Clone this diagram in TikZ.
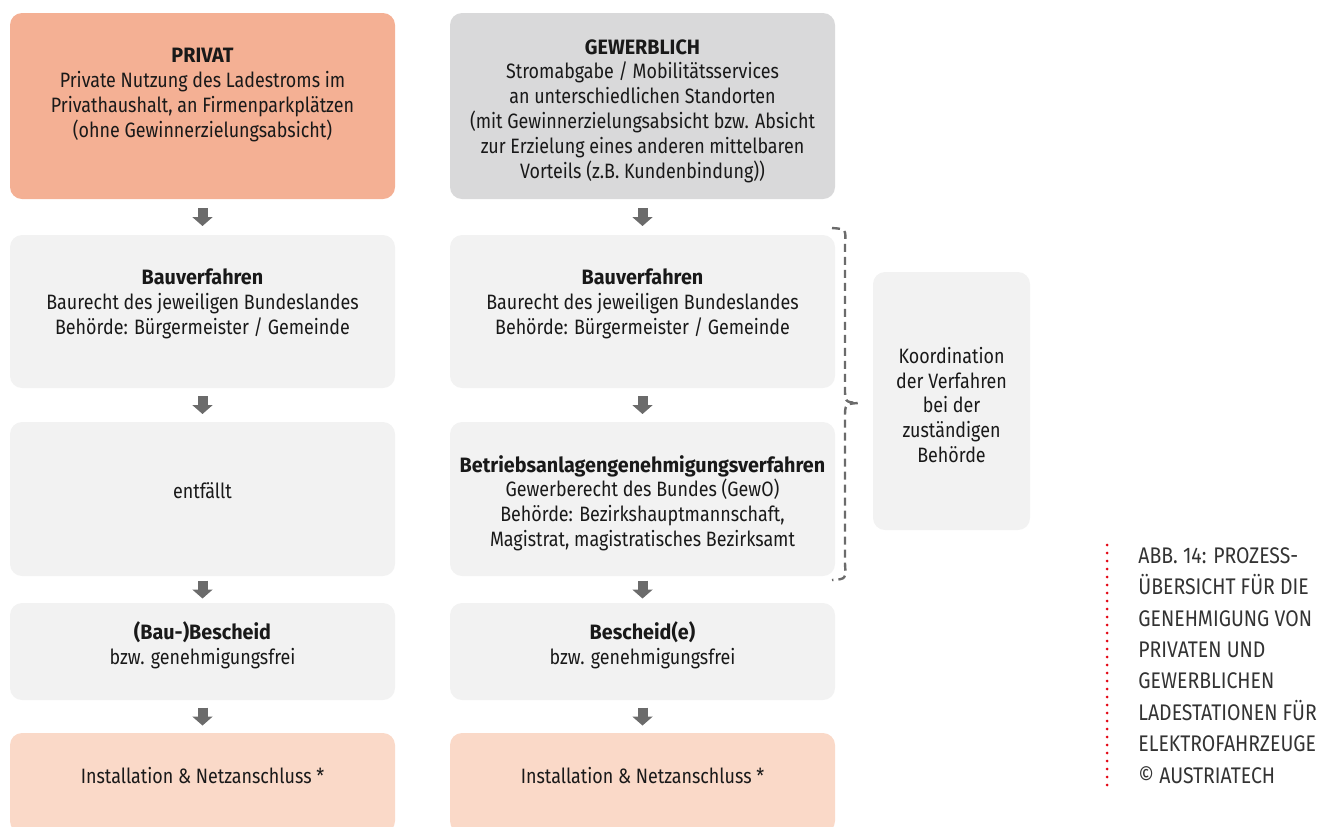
\documentclass[tikz,border=0pt]{standalone}
\usepackage{fontspec}
\setmainfont{Fira Sans}[FakeStretch=0.86, BoldFeatures={FakeStretch=0.95}]
\usetikzlibrary{arrows.meta, calc}
\definecolor{privat}{HTML}{F4B094}
\definecolor{gewerbe}{HTML}{D9D9DA}
\definecolor{stepgray}{HTML}{F2F2F2}
\definecolor{install}{HTML}{FAD9C8}
\definecolor{arrowgray}{HTML}{6B6B6B}
\definecolor{capred}{HTML}{E30613}
\newcommand{\bodyfont}{\fontsize{10.4}{12.4}\selectfont}

\begin{document}
\begin{tikzpicture}[x=0.5pt, y=-0.5pt,
            box/.style={rectangle, rounded corners=6pt, inner sep=0pt, minimum width=192.5pt},
            txt/.style={align=center, font=\bodyfont, text=black!90, inner sep=0pt},
            flow/.style={arrowgray, line width=5pt, -{Triangle[width=10pt, length=4.5pt]}},
            bracket/.style={arrowgray, line width=1.2pt, dash pattern=on 4pt off 2.5pt},
            capdots/.style={capred, line width=1.5pt, line cap=round, dash pattern=on 0pt off 4pt}]

        \useasboundingbox (0,0) rectangle (1320,826);

        % left column: privat
        \node[box, fill=privat,   minimum height=93pt]   (p1) at (202.5,106) {};
        \node[box, fill=stepgray, minimum height=76.5pt] (p2) at (202.5,311.5) {};
        \node[box, fill=stepgray, minimum height=77pt]   (p3) at (202.5,499) {};
        \node[box, fill=stepgray, minimum height=48.5pt] (p4) at (202.5,651.5) {};
        \node[box, fill=install,  minimum height=50pt]   (p5) at (202.5,783) {};

        % right column: gewerblich
        \node[box, fill=gewerbe,  minimum height=93pt]   (g1) at (642.5,106) {};
        \node[box, fill=stepgray, minimum height=76.5pt] (g2) at (642.5,311.5) {};
        \node[box, fill=stepgray, minimum height=77pt]   (g3) at (642.5,499) {};
        \node[box, fill=stepgray, minimum height=48.5pt] (g4) at (642.5,651.5) {};
        \node[box, fill=install,  minimum height=50pt]   (g5) at (642.5,783) {};

        \node[box, fill=stepgray, minimum width=78.5pt, minimum height=129pt] (koord) at (951.5,401) {};

        % texts
        \node[txt] (tp1) at (202.5,95) {\textbf{PRIVAT}\\Private Nutzung des Ladestroms im\\Privathaushalt, an Firmenparkplätzen\\(ohne Gewinnerzielungsabsicht)};
        \node[txt] (tp2) at (202.5,304) {\textbf{Bauverfahren}\\Baurecht des jeweiligen Bundeslandes\\Behörde: Bürgermeister / Gemeinde};
        \node[txt] (tp3) at (202.5,491) {entfällt};
        \node[txt] (tp4) at (202.5,645) {\textbf{(Bau-)Bescheid}\\bzw. genehmigungsfrei};
        \node[txt] (tp5) at (202.5,775) {Installation \& Netzanschluss *};

        \node[txt] (tg1) at (642.5,111) {\textbf{GEWERBLICH}\\Stromabgabe / Mobilitätsservices\\an unterschiedlichen Standorten\\(mit Gewinnerzielungsabsicht bzw. Absicht\\zur Erzielung eines anderen mittelbaren\\Vorteils (z.B. Kundenbindung))};
        \node[txt] (tg2) at (642.5,304) {\textbf{Bauverfahren}\\Baurecht des jeweiligen Bundeslandes\\Behörde: Bürgermeister / Gemeinde};
        \node[txt] (tg3) at (642.5,503) {\textbf{Betriebsanlagengenehmigungsverfahren}\\Gewerberecht des Bundes (GewO)\\Behörde: Bezirkshauptmannschaft,\\Magistrat, magistratisches Bezirksamt};
        \node[txt] (tg4) at (642.5,645) {\textbf{Bescheid(e)}\\bzw. genehmigungsfrei};
        \node[txt] (tg5) at (642.5,775) {Installation \& Netzanschluss *};

        \node[txt] (tk) at (951.5,405) {Koordination\\der Verfahren\\bei der\\zuständigen\\Behörde};

        % arrows between the steps
        \foreach \a/\b in {p1/p2,p2/p3,p3/p4,p4/p5,g1/g2,g2/g3,g3/g4,g4/g5}
            \draw[flow] ($(\a.south)!.5!(\b.north)$) +(0,-9) -- +(0,9);

        % bracket
        \draw[bracket] (832,228) .. controls (846,229) .. (845,244) -- (845,388)
            .. controls (845,402) .. (858,403) .. controls (845,404) .. (845,418)
            -- (845,564) .. controls (846,579) .. (832,580);

        % caption
        \draw[capdots] (1107,545) -- (1107,786);
        \node[anchor=north west, align=left, inner sep=0pt, text=black!80,
              font=\fontsize{11.3}{15.7}\selectfont] (caption) at (1138,547)
            {ABB. 14: PROZESS-\\ÜBERSICHT FÜR DIE\\GENEHMIGUNG VON\\PRIVATEN UND\\GEWERBLICHEN\\LADESTATIONEN FÜR\\ELEKTROFAHRZEUGE\\© AUSTRIATECH};
    \end{tikzpicture}
\end{document}
